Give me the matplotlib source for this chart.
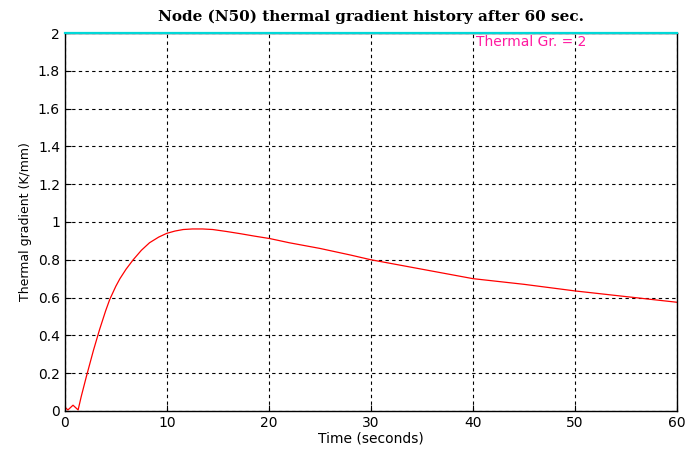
import matplotlib
matplotlib.use("Agg")
import matplotlib.pyplot as plt
import numpy as np

# curve values
time_s = [0, 0.3, 0.8, 1.3, 1.6, 2.1, 2.8, 3.4, 4.0, 4.4, 5.0, 5.4, 6.0, 6.7,
          7.5, 8.3, 9.2, 10, 10.8, 11.6, 12.5, 13.5, 14.5, 15.8, 17.2, 18.6,
          20.1, 22, 25, 28, 30, 35, 40, 45, 50, 55, 60]
grad = [0.02, 0.005, 0.03, 0.005, 0.075, 0.18, 0.32, 0.43, 0.53, 0.59, 0.66,
        0.70, 0.75, 0.80, 0.85, 0.89, 0.92, 0.94, 0.952, 0.96, 0.963, 0.963,
        0.96, 0.95, 0.938, 0.925, 0.912, 0.89, 0.86, 0.825, 0.80, 0.75, 0.70,
        0.67, 0.635, 0.605, 0.575]
limit_t = [0, 60]
limit_v = [2, 2]

fig = plt.figure(figsize=(6.9, 4.53), dpi=100)
ax = fig.add_axes([0.094, 0.093, 0.887, 0.834])

ax.plot(time_s, grad, color='red', lw=0.9)
ax.plot(limit_t, limit_v, color='#00d8d8', lw=1.6, clip_on=False, zorder=3)
ax.text(40.3, 1.99, 'Thermal Gr. = 2', color='#ff1aa0', fontsize=10, va='top')

ax.set_xlim(0, 60)
ax.set_ylim(0, 2)
ax.set_xticks(np.arange(0, 61, 10))
ax.set_yticks(np.arange(0, 2.01, 0.2))
ax.set_yticklabels(['0', '0.2', '0.4', '0.6', '0.8', '1', '1.2', '1.4', '1.6', '1.8', '2'])
ax.tick_params(direction='in', labelsize=10, length=4)
ax.grid(True, color='black', linestyle=(0, (3, 3)), lw=0.8)
for s in ax.spines.values():
    s.set_linewidth(1.0)

ax.set_xlabel('Time (seconds)', fontsize=10, labelpad=1)
ax.set_ylabel('Thermal gradient (K/mm)', fontsize=9, labelpad=4)
ax.set_title('Node (N50) thermal gradient history after 60 sec.',
             fontsize=11, fontweight='bold', family='DejaVu Serif', pad=9)

fig.savefig('out.png', dpi=100)
